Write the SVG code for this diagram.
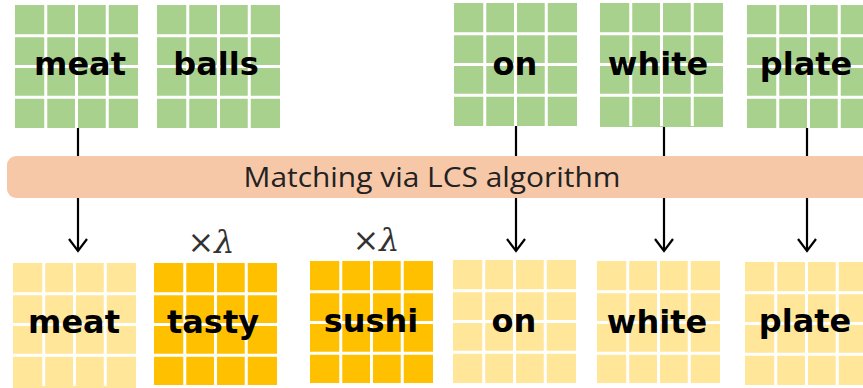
<svg xmlns="http://www.w3.org/2000/svg" xmlns:xlink="http://www.w3.org/1999/xlink" width="863" height="388" viewBox="0 0 863 388">
  <style>
    .green { fill: #A9D18E; }
    .light { fill: #FFE699; }
    .orange { fill: #FFC000; }
    .word { font-family: "DejaVu Sans", "Liberation Sans", sans-serif; font-weight: bold; font-size: 32px; fill: #000; text-anchor: middle; }
    .bartext { font-family: "Open Sans", Lato, sans-serif; font-size: 28px; fill: #222; text-anchor: middle; }
    .lam { font-family: "DejaVu Serif", "Liberation Serif", serif; font-size: 32px; fill: #333; text-anchor: middle; }
    .conn { stroke: #000; stroke-width: 2.2; fill: none; }
  </style>
  <defs>
    <path id="grid" d="M30.75 0V123M61.5 0V123M92.25 0V123M0 30.75H123M0 61.5H123M0 92.25H123" stroke="#FFFFFF" stroke-width="3" fill="none"/>
  </defs>

  <g id="connectors">
    <line class="conn" x1="78" y1="128" x2="78" y2="251"/>
    <path class="conn" d="M69 239L78 251L87 239"/>
    <line class="conn" x1="516" y1="126" x2="516" y2="251"/>
    <path class="conn" d="M507 239L516 251L525 239"/>
    <line class="conn" x1="664" y1="127" x2="664" y2="251"/>
    <path class="conn" d="M655 239L664 251L673 239"/>
    <line class="conn" x1="807" y1="128" x2="807" y2="251"/>
    <path class="conn" d="M798 239L807 251L816 239"/>
  </g>

  <g id="lcs-bar">
    <rect x="7" y="156" width="870" height="42" rx="9" fill="#F6C8A8"/>
    <text class="bartext" x="432" y="187" textLength="377" lengthAdjust="spacingAndGlyphs">Matching via LCS algorithm</text>
  </g>

  <g id="top-meat">
    <rect class="green" x="15" y="5" width="123" height="123"/>
    <use xlink:href="#grid" x="15" y="5"/>
    <text class="word" x="80" y="75">meat</text>
  </g>
  <g id="top-balls">
    <rect class="green" x="157" y="5" width="123" height="123"/>
    <use xlink:href="#grid" x="157" y="5"/>
    <text class="word" x="216" y="75">balls</text>
  </g>
  <g id="top-on">
    <rect class="green" x="454" y="3" width="123" height="123"/>
    <use xlink:href="#grid" x="454" y="3"/>
    <text class="word" x="515" y="75">on</text>
  </g>
  <g id="top-white">
    <rect class="green" x="600" y="3" width="123" height="124"/>
    <use xlink:href="#grid" x="600" y="3"/>
    <text class="word" x="658" y="75">white</text>
  </g>
  <g id="top-plate">
    <rect class="green" x="747" y="5" width="123" height="123"/>
    <use xlink:href="#grid" x="747" y="5"/>
    <text class="word" x="806" y="75">plate</text>
  </g>

  <g id="bottom-meat">
    <rect class="light" x="13" y="263" width="123" height="125"/>
    <use xlink:href="#grid" x="13" y="263"/>
    <text class="word" x="74" y="333">meat</text>
  </g>
  <g id="bottom-tasty">
    <text class="lam" x="211" y="253">×<tspan font-style="italic">λ</tspan></text>
    <rect class="orange" x="154" y="263" width="123" height="122"/>
    <use xlink:href="#grid" x="154" y="263"/>
    <text class="word" x="213" y="333">tasty</text>
  </g>
  <g id="bottom-sushi">
    <text class="lam" x="376" y="251">×<tspan font-style="italic">λ</tspan></text>
    <rect class="orange" x="310" y="261" width="123" height="122"/>
    <use xlink:href="#grid" x="310" y="261"/>
    <text class="word" x="371" y="332">sushi</text>
  </g>
  <g id="bottom-on">
    <rect class="light" x="453" y="260" width="123" height="123"/>
    <use xlink:href="#grid" x="453" y="260"/>
    <text class="word" x="514" y="332">on</text>
  </g>
  <g id="bottom-white">
    <rect class="light" x="597" y="261" width="123" height="122"/>
    <use xlink:href="#grid" x="597" y="261"/>
    <text class="word" x="657" y="333">white</text>
  </g>
  <g id="bottom-plate">
    <rect class="light" x="745" y="262" width="123" height="123"/>
    <use xlink:href="#grid" x="745" y="262"/>
    <text class="word" x="805" y="332">plate</text>
  </g>
</svg>
